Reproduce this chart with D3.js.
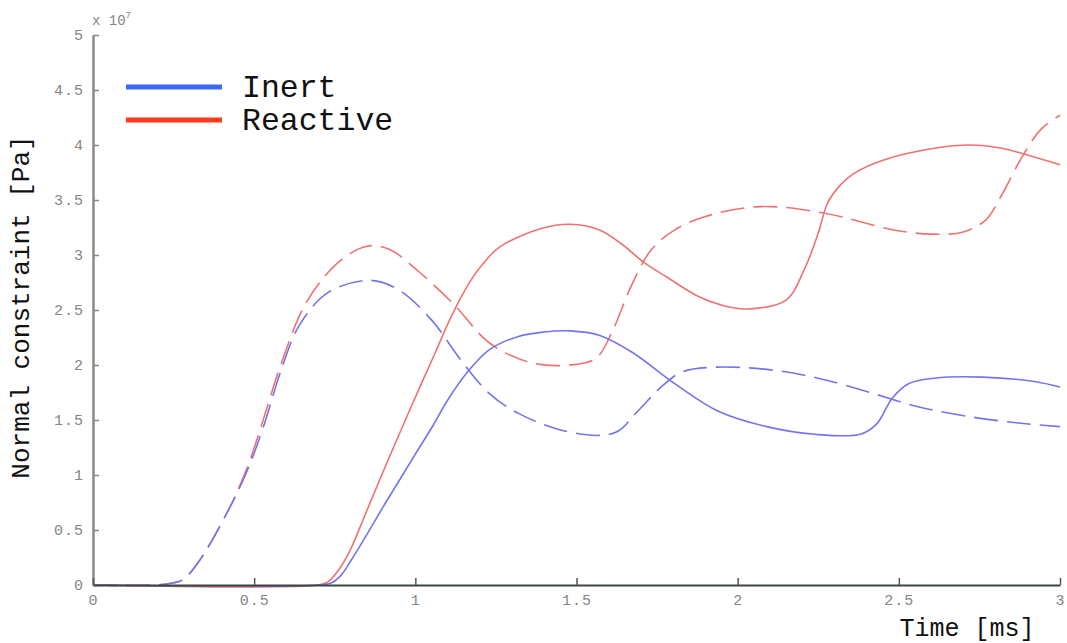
<!DOCTYPE html>
<html>
<head>
<meta charset="utf-8">
<script src="https://cdn.jsdelivr.net/npm/d3@7"></script>
<style>
  html, body { margin: 0; padding: 0; background: #ffffff; }
  svg { display: block; }
  .mono { font-family: "Courier New", "Liberation Mono", monospace; }
</style>
</head>
<body>
<svg id="chart" width="1067" height="643"></svg>
<script>
// Time axis (ms) and normal constraint (x 1e7 Pa)
const xTicks = [0, 0.5, 1, 1.5, 2, 2.5, 3];
const yTicks = [0, 0.5, 1, 1.5, 2, 2.5, 3, 3.5, 4, 4.5, 5];

// Inert, solid curve
const inertSolidT = [0, 0.70, 0.74, 0.77, 0.80, 0.85, 0.90, 0.95, 1.00, 1.055, 1.10, 1.16, 1.23, 1.32, 1.40, 1.48, 1.57, 1.67, 1.81, 1.94, 2.09, 2.24, 2.38, 2.43, 2.48, 2.53, 2.61, 2.76, 2.92, 3.0];
const inertSolidV = [0, 0, 0.02, 0.09, 0.22, 0.46, 0.71, 0.95, 1.19, 1.45, 1.68, 1.93, 2.14, 2.26, 2.30, 2.31, 2.27, 2.12, 1.82, 1.58, 1.44, 1.37, 1.37, 1.46, 1.70, 1.83, 1.88, 1.89, 1.85, 1.80];

// Inert, dashed curve
const inertDashT = [0, 0.20, 0.25, 0.28, 0.33, 0.42, 0.48, 0.53, 0.58, 0.64, 0.73, 0.86, 0.95, 1.05, 1.14, 1.23, 1.32, 1.45, 1.57, 1.63, 1.69, 1.77, 1.83, 1.93, 2.09, 2.25, 2.41, 2.56, 2.72, 2.88, 3.0];
const inertDashV = [0, 0, 0.02, 0.05, 0.22, 0.68, 1.05, 1.45, 1.92, 2.36, 2.66, 2.77, 2.68, 2.41, 2.05, 1.74, 1.56, 1.41, 1.36, 1.40, 1.58, 1.82, 1.94, 1.98, 1.96, 1.88, 1.75, 1.62, 1.53, 1.47, 1.44];

// Reactive, solid curve
const reactSolidT = [0, 0.70, 0.73, 0.77, 0.80, 0.85, 0.90, 0.95, 1.005, 1.06, 1.108, 1.17, 1.21, 1.26, 1.39, 1.48, 1.57, 1.64, 1.71, 1.78, 1.88, 1.97, 2.04, 2.15, 2.21, 2.25, 2.28, 2.32, 2.36, 2.46, 2.61, 2.72, 2.82, 2.92, 3.0];
const reactSolidV = [0, 0, 0.03, 0.17, 0.33, 0.68, 1.03, 1.37, 1.74, 2.10, 2.42, 2.76, 2.92, 3.07, 3.24, 3.28, 3.23, 3.10, 2.93, 2.80, 2.62, 2.53, 2.51, 2.59, 2.89, 3.20, 3.48, 3.64, 3.74, 3.87, 3.97, 4.00, 3.97, 3.89, 3.82];

// Reactive, dashed curve
const reactDashT = [0, 0.20, 0.25, 0.28, 0.33, 0.42, 0.48, 0.53, 0.58, 0.66, 0.76, 0.85, 0.92, 1.01, 1.12, 1.23, 1.36, 1.48, 1.56, 1.61, 1.67, 1.73, 1.80, 1.90, 2.07, 2.27, 2.48, 2.60, 2.70, 2.77, 2.82, 2.88, 2.94, 3.0];
const reactDashV = [0, 0, 0.02, 0.05, 0.22, 0.68, 1.08, 1.52, 1.98, 2.56, 2.93, 3.08, 3.05, 2.85, 2.55, 2.20, 2.02, 2.00, 2.06, 2.30, 2.72, 3.04, 3.22, 3.35, 3.44, 3.38, 3.23, 3.19, 3.21, 3.32, 3.55, 3.88, 4.14, 4.27];

const series = [
  { t: reactDashT,  v: reactDashV,  color: "#ef7272", dash: "24,9" },
  { t: inertDashT,  v: inertDashV,  color: "#7474ec", dash: "24,9" },
  { t: reactSolidT, v: reactSolidV, color: "#ef7272", dash: null },
  { t: inertSolidT, v: inertSolidV, color: "#7474ec", dash: null }
];

const legendNames = ["Inert", "Reactive"];
const legendColors = ["#3d6af2", "#ff3a1c"];

const svg = d3.select("#chart");
const x = d3.scaleLinear().domain([0, 3]).range([93, 1060]);
const y = d3.scaleLinear().domain([0, 5]).range([585, 35]);

// Curves
const line = d3.line()
  .x(d => x(d[0]))
  .y(d => y(Math.max(0, d[1])))
  .curve(d3.curveCatmullRom.alpha(0.5));

series.forEach(s => {
  const pts = s.t.map((t, i) => [t, s.v[i]]);
  svg.append("path")
    .datum(pts)
    .attr("d", line)
    .attr("fill", "none")
    .attr("stroke", s.color)
    .attr("stroke-width", 1.6)
    .attr("stroke-dasharray", s.dash);
});

// Y axis
const yAxis = svg.append("g")
  .attr("transform", `translate(${x(0)},0)`)
  .call(d3.axisLeft(y).tickValues(yTicks).tickSizeInner(-6).tickSizeOuter(0)
    .tickPadding(9).tickFormat(d3.format("")));
yAxis.select(".domain").attr("stroke", "#8a8a8a").attr("stroke-width", 2.5);
yAxis.selectAll(".tick line").attr("stroke", "#8a8a8a").attr("stroke-width", 1.5);
yAxis.selectAll(".tick text")
  .attr("class", "mono")
  .attr("fill", "#858585")
  .attr("font-size", 15)
  .attr("letter-spacing", "1px");

// X axis
const xAxis = svg.append("g")
  .attr("transform", `translate(0,${y(0)})`)
  .call(d3.axisBottom(x).tickValues(xTicks).tickSizeInner(-7).tickSizeOuter(0)
    .tickPadding(9).tickFormat(d3.format("")));
xAxis.select(".domain").attr("stroke", "#3c463c").attr("stroke-width", 2);
xAxis.selectAll(".tick line").attr("stroke", "#555").attr("stroke-width", 1.5);
xAxis.selectAll(".tick text")
  .attr("class", "mono")
  .attr("fill", "#858585")
  .attr("font-size", 15)
  .attr("letter-spacing", "1px");

// Exponent marker
const expo = svg.append("text")
  .attr("class", "mono")
  .attr("x", 92)
  .attr("y", 25)
  .attr("fill", "#858585")
  .attr("font-size", 14)
  .text("x 10");
expo.append("tspan")
  .attr("dy", -7)
  .attr("font-size", 9)
  .text("7");

// Axis titles
svg.append("text")
  .attr("class", "mono")
  .attr("transform", "translate(29,307) rotate(-90)")
  .attr("text-anchor", "middle")
  .attr("font-size", 26)
  .attr("fill", "#111")
  .text("Normal constraint [Pa]");

svg.append("text")
  .attr("class", "mono")
  .attr("x", 967)
  .attr("y", 636)
  .attr("text-anchor", "middle")
  .attr("font-size", 25)
  .attr("fill", "#111")
  .text("Time [ms]");

// Legend
legendNames.forEach((name, i) => {
  const ly = 87 + i * 33;
  svg.append("line")
    .attr("x1", 126).attr("x2", 222)
    .attr("y1", ly).attr("y2", ly)
    .attr("stroke", legendColors[i])
    .attr("stroke-width", 5);
  svg.append("text")
    .attr("class", "mono")
    .attr("x", 242)
    .attr("y", ly + 10)
    .attr("font-size", 31.5)
    .attr("fill", "#111")
    .text(name);
});
</script>
</body>
</html>
